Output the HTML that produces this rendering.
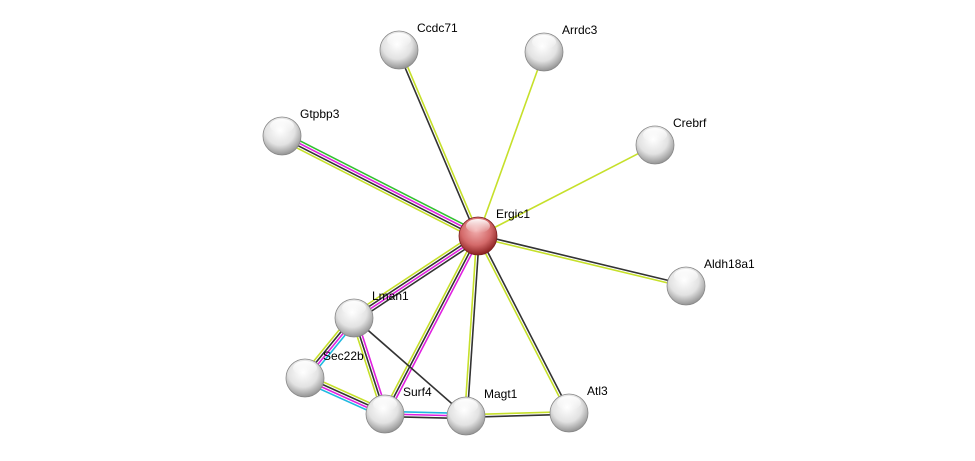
<!DOCTYPE html>
<html><head><meta charset="utf-8"><style>
html,body{margin:0;padding:0;background:#fff;width:975px;height:461px;overflow:hidden}
svg text{font-family:"Liberation Sans",sans-serif;font-size:12px;fill:#000}
</style></head><body>
<svg id="s" width="975" height="461" xmlns="http://www.w3.org/2000/svg">
<defs>
<radialGradient id="g" cx="45%" cy="35%" r="65%">
<stop offset="0" stop-color="#ffffff"/><stop offset="0.6" stop-color="#e2e2e2"/><stop offset="1" stop-color="#949494"/>
</radialGradient>
<radialGradient id="r" cx="45%" cy="35%" r="65%">
<stop offset="0" stop-color="#f2b0b0"/><stop offset="0.6" stop-color="#d46a6a"/><stop offset="1" stop-color="#8a2020"/>
</radialGradient>
<linearGradient id="hl" x1="0" y1="0" x2="0" y2="1">
<stop offset="0" stop-color="#fff" stop-opacity="0.95"/><stop offset="1" stop-color="#fff" stop-opacity="0"/>
</linearGradient>
</defs>
<g id="edges"></g><g id="nodes"></g>
</svg>
<script>
var N={Ergic1:[478,236],Ccdc71:[399,50],Arrdc3:[544,52],Gtpbp3:[282,136],Crebrf:[655,145],Aldh18a1:[686,286],Lman1:[354,318],Sec22b:[305,378],Surf4:[385,414],Magt1:[466,416],Atl3:[569,413]};
var K='#333',Y='#c6e02a',M='#e020e0',C='#20b8e0',G='#30c030';
var E=[['Ergic1','Ccdc71',[K,Y]],['Ergic1','Arrdc3',[Y]],['Ergic1','Crebrf',[Y]],['Ergic1','Gtpbp3',[Y,K,M,G]],['Ergic1','Aldh18a1',[K,Y]],['Ergic1','Lman1',[K,M,K,Y]],['Ergic1','Surf4',[M,K,Y]],['Ergic1','Magt1',[K,Y]],['Ergic1','Atl3',[K,Y]],['Lman1','Sec22b',[C,M,K,Y]],['Lman1','Surf4',[M,K,Y]],['Lman1','Magt1',[K]],['Sec22b','Surf4',[Y,K,M,C]],['Surf4','Magt1',[C,M,K]],['Magt1','Atl3',[Y,K]]];
var ns='http://www.w3.org/2000/svg',eg=document.getElementById('edges'),ng=document.getElementById('nodes');
E.forEach(function(e){var a=N[e[0]],b=N[e[1]],dx=b[0]-a[0],dy=b[1]-a[1],l=Math.hypot(dx,dy),px=-dy/l,py=dx/l,n=e[2].length;
e[2].forEach(function(c,i){var o=(i-(n-1)/2)*2.6,l2=document.createElementNS(ns,'line');
l2.setAttribute('x1',a[0]+px*o);l2.setAttribute('y1',a[1]+py*o);l2.setAttribute('x2',b[0]+px*o);l2.setAttribute('y2',b[1]+py*o);
l2.setAttribute('stroke',c);l2.setAttribute('stroke-width',1.6);eg.appendChild(l2);});});
for(var k in N){var p=N[k],c=document.createElementNS(ns,'circle');
c.setAttribute('cx',p[0]);c.setAttribute('cy',p[1]);c.setAttribute('r',19);c.setAttribute('fill',k=='Ergic1'?'url(#r)':'url(#g)');c.setAttribute('stroke',k=='Ergic1'?'#7a2020':'#888');c.setAttribute('stroke-width',0.8);ng.appendChild(c);
var h=document.createElementNS(ns,'ellipse');h.setAttribute('cx',p[0]);h.setAttribute('cy',p[1]-10);h.setAttribute('rx',12);h.setAttribute('ry',7);h.setAttribute('fill','url(#hl)');ng.appendChild(h);
var t=document.createElementNS(ns,'text');t.setAttribute('x',p[0]+18);t.setAttribute('y',p[1]-18);t.textContent=k;ng.appendChild(t);}
</script>
</body></html>
